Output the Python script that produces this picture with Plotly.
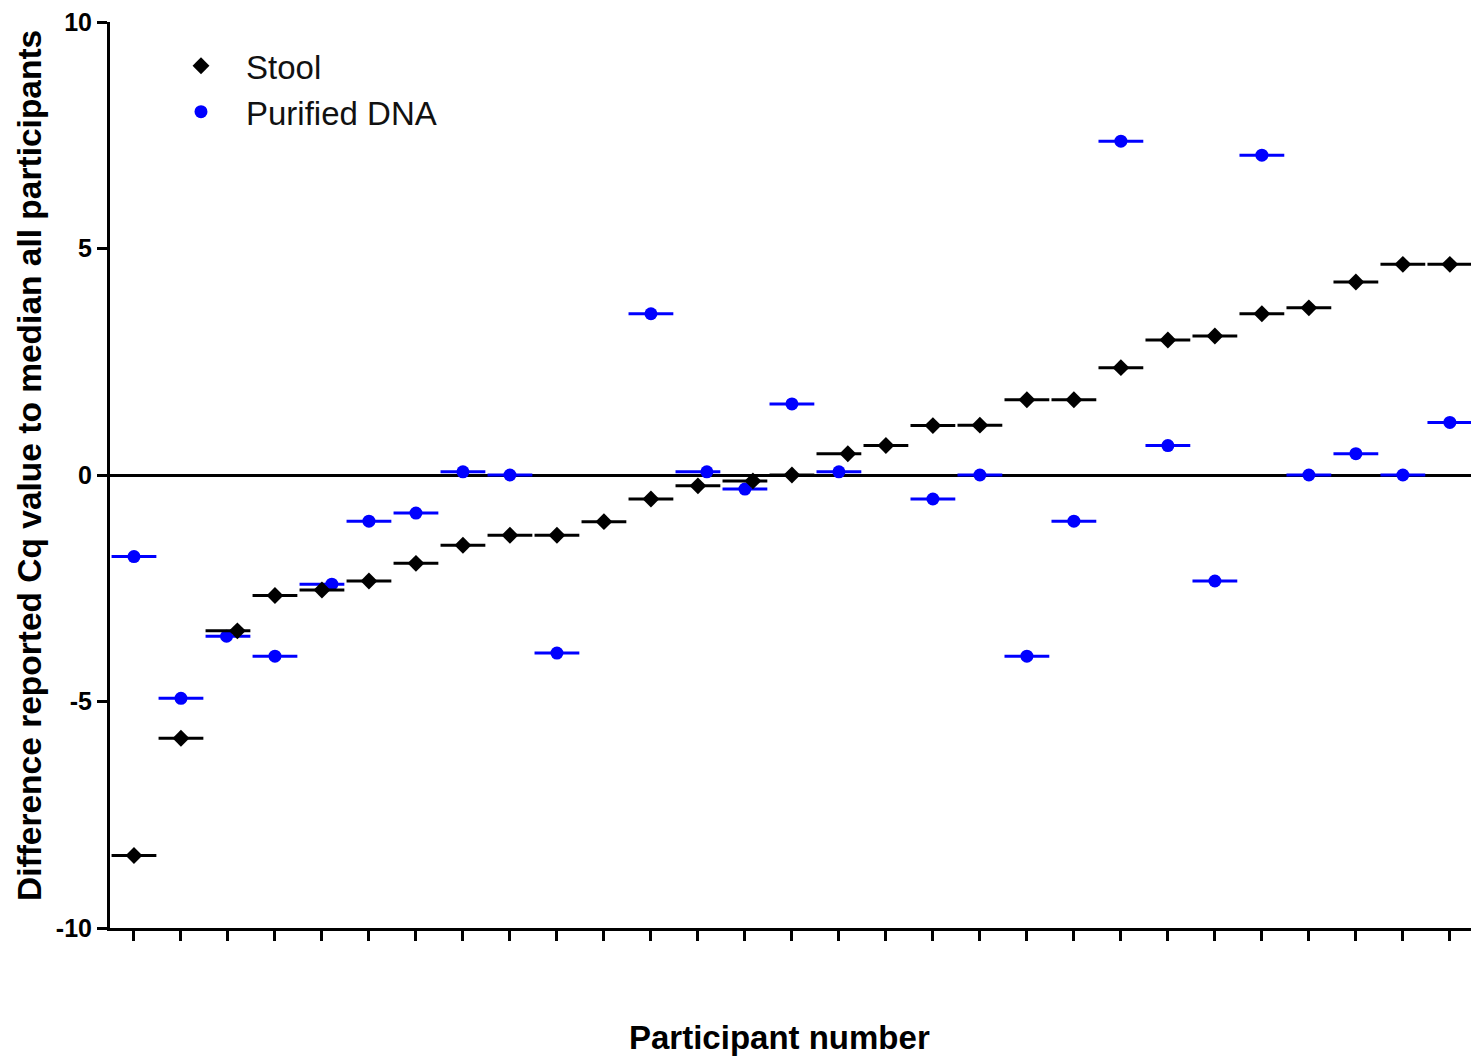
import plotly.graph_objects as go

participants = list(range(1, 30))

stool = [-8.40, -5.81, -3.44, -2.66, -2.54, -2.34, -1.95, -1.55, -1.33, -1.33,
         -1.03, -0.53, -0.24, -0.13, 0.00, 0.47, 0.65, 1.09, 1.10, 1.66,
         1.66, 2.37, 2.98, 3.07, 3.56, 3.69, 4.26, 4.65, 4.65]

dna = [-1.80, -4.93, -3.56, -4.00, -2.41, -1.02, -0.84, 0.07, 0.00, -3.93,
       None, 3.56, 0.07, -0.31, 1.57, 0.07, None, -0.53, 0.00, -4.00,
       -1.02, 7.37, 0.65, -2.34, 7.06, 0.00, 0.47, 0.00, 1.16]

# horizontal jitter of overlapping points (in participant units)
stool_jitter = [0, 0, 0.20, 0, 0, 0, 0, 0, 0, 0,
                0, 0, 0, 0.17, 0, 0.19, 0, 0, 0, 0,
                0, 0, 0, 0, 0, 0, 0, 0, 0]
dna_jitter = [0, 0, -0.03, 0, 0.21, 0, 0, 0, 0, 0,
              0, 0, 0.19, 0, 0, 0, 0, 0, 0, 0,
              0, 0, 0, 0, 0, 0, 0, 0, 0]

y_ticks = [-10, -5, 0, 5, 10]

BLUE = "#0000FF"
BLACK = "#000000"
FONT = "Arial, Liberation Sans, sans-serif"

dna_x = [p for p, v in zip(participants, dna) if v is not None]
dna_y = [v for v in dna if v is not None]
dna_xj = [p + j for p, j, v in zip(participants, dna_jitter, dna) if v is not None]
stool_xj = [p + j for p, j in zip(participants, stool_jitter)]

fig = go.Figure()

# median lines - purified DNA
fig.add_trace(go.Scatter(
    x=dna_x, y=dna_y, mode="markers", showlegend=False, hoverinfo="skip",
    marker=dict(symbol="line-ew", size=32, line=dict(width=3, color=BLUE)),
))
fig.add_trace(go.Scatter(
    x=dna_xj, y=dna_y, mode="markers", name="Purified DNA",
    legendgroup="dna", legendrank=2,
    marker=dict(symbol="circle", size=13, color=BLUE, line=dict(width=0)),
))
# median lines - stool
fig.add_trace(go.Scatter(
    x=participants, y=stool, mode="markers", showlegend=False, hoverinfo="skip",
    marker=dict(symbol="line-ew", size=32, line=dict(width=3, color=BLACK)),
))
fig.add_trace(go.Scatter(
    x=stool_xj, y=stool, mode="markers", name="Stool",
    legendgroup="stool", legendrank=1,
    marker=dict(symbol="diamond", size=13, color=BLACK, line=dict(width=0)),
))

fig.update_layout(
    width=1471, height=1050,
    margin=dict(l=102, r=0, t=6, b=130),
    paper_bgcolor="white", plot_bgcolor="white",
    font=dict(family=FONT, color="black"),
    showlegend=True,
    legend=dict(
        x=0.0336, y=0.9825, xanchor="left", yanchor="top",
        bgcolor="rgba(0,0,0,0)", borderwidth=0,
        font=dict(size=33, family=FONT, color="#111111"),
        itemwidth=80, tracegroupgap=0,
    ),
    xaxis=dict(
        range=[0.49, 29.62],
        tickmode="array", tickvals=participants, showticklabels=False,
        ticks="outside", ticklen=10, tickwidth=3, tickcolor="black",
        showline=True, linewidth=3, linecolor="black",
        showgrid=False, zeroline=False,
    ),
    yaxis=dict(
        range=[-10, 10],
        tickmode="array", tickvals=y_ticks, ticktext=[f"<b>{t}</b>" for t in y_ticks],
        tickfont=dict(size=25, family=FONT, color="black"),
        ticklabeloverflow="allow",
        ticks="outside", ticklen=10, tickwidth=3, tickcolor="black",
        showline=True, linewidth=3, linecolor="black",
        showgrid=False,
        zeroline=True, zerolinecolor="black", zerolinewidth=3,
    ),
    annotations=[
        dict(text="<b>Difference reported Cq value to median all participants</b>",
             xref="paper", yref="paper", x=-0.0584, y=0.51, textangle=-90,
             showarrow=False, xanchor="center", yanchor="middle",
             font=dict(size=33.5, family=FONT, color="black")),
        dict(text="<b>Participant number</b>",
             xref="paper", yref="paper", x=0.4887, y=-0.1204,
             showarrow=False, xanchor="center", yanchor="middle",
             font=dict(size=33, family=FONT, color="black")),
    ],
)

fig.write_html("out.html")
